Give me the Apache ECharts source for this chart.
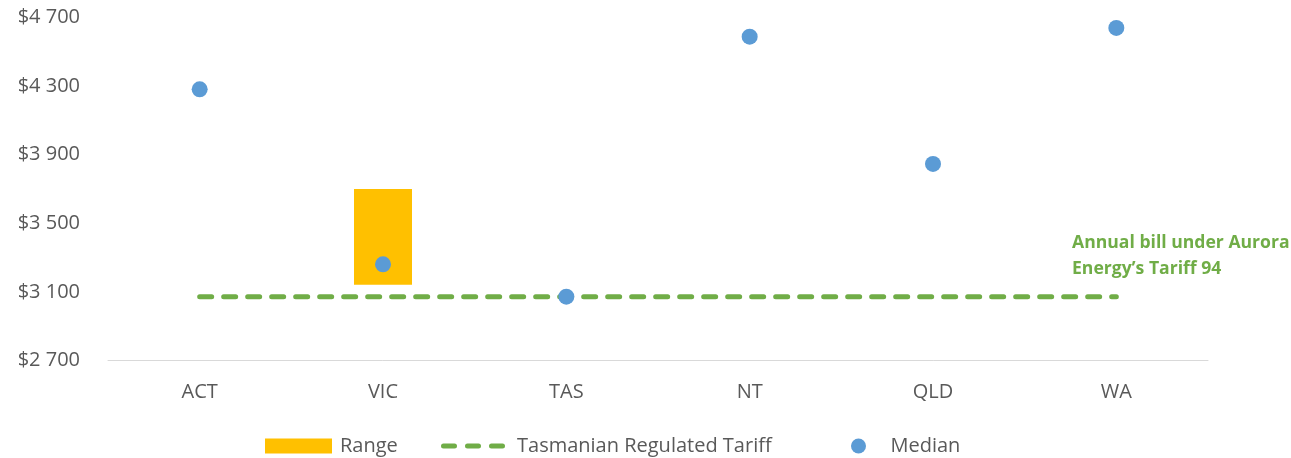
<!DOCTYPE html>
<html>
<head>
<meta charset="utf-8">
<script src="https://cdn.jsdelivr.net/npm/echarts@6/dist/echarts.min.js"></script>
<style>
  html, body { margin: 0; padding: 0; background: #fff; }
  #chart-container { width: 1291px; height: 458px; }
</style>
</head>
<body>
<div id="chart-container"></div>
<script>
const states = ["ACT", "VIC", "TAS", "NT", "QLD", "WA"];
const rangeLow = [null, 3142, null, null, null, null];
const rangeHigh = [null, 3700, null, null, null, null];
const medianData = [4281, 3261, 3072, 4588, 3846, 4639];
const tariffData = [3072, 3072, 3072, 3072, 3072, 3072];
const yTicks = { min: 2700, max: 4700, interval: 400 };

const rangeSize = rangeHigh.map((v, i) => (v == null ? null : v - rangeLow[i]));

const font = "'Open Sans', 'Liberation Sans', sans-serif";
const grey = "#595959";

// three rounded dashes for the tariff legend icon
const dash = (x) => `M${x + 2.5},0h11a2.5,2.5 0 0 1 0,5h-11a2.5,2.5 0 0 1 0,-5z`;
const dashIcon = "path://" + [0, 24, 48].map(dash).join(" ");

const dom = document.getElementById("chart-container");
const myChart = echarts.init(dom, null, { renderer: "canvas" });

function money(v) {
  return "$" + String(v).replace(/\B(?=(\d{3})+(?!\d))/g, " ");
}

const option = {
  animation: false,
  textStyle: { fontFamily: font },
  grid: { left: 108, right: 83, top: 17.5, bottom: 97.5, containLabel: false },
  legend: [
    {
      data: [{ name: "Range", icon: "rect" }],
      left: 265,
      top: 436,
      padding: 0,
      itemWidth: 67,
      itemHeight: 15,
      textStyle: { color: grey, fontSize: 20, fontFamily: font, padding: [0, 0, 0, 3] },
    },
    {
      data: [{ name: "Tasmanian Regulated Tariff", icon: dashIcon }],
      left: 441,
      top: 436,
      padding: 0,
      itemWidth: 64,
      itemHeight: 5,
      itemStyle: { color: "#70AD47" },
      textStyle: { color: grey, fontSize: 20, fontFamily: font, padding: [0, 0, 0, 7] },
    },
    {
      data: [{ name: "Median", icon: "circle" }],
      left: 851,
      top: 436,
      padding: 0,
      itemWidth: 24,
      itemHeight: 15,
      textStyle: { color: grey, fontSize: 20, fontFamily: font, padding: [0, 0, 0, 15] },
    },
  ],
  xAxis: {
    type: "category",
    data: states,
    axisLine: { lineStyle: { color: "#D9D9D9", width: 1 } },
    axisTick: { show: false },
    axisLabel: { color: grey, fontSize: 20, margin: 22, fontFamily: font },
  },
  yAxis: {
    type: "value",
    min: yTicks.min,
    max: yTicks.max,
    interval: yTicks.interval,
    splitLine: { show: false },
    axisLine: { show: false },
    axisTick: { show: false },
    axisLabel: { color: grey, fontSize: 20, margin: 28, fontFamily: font, formatter: money },
  },
  graphic: [
    {
      type: "text",
      left: 1072,
      top: 230,
      style: {
        text: "Annual bill under Aurora\nEnergy’s Tariff 94",
        fill: "#70AD47",
        font: "bold 17.6px " + font,
        lineHeight: 26,
      },
    },
  ],
  series: [
    {
      name: "base",
      type: "bar",
      stack: "range",
      barWidth: 58,
      itemStyle: { color: "transparent" },
      data: rangeLow,
      silent: true,
    },
    {
      name: "Range",
      type: "bar",
      stack: "range",
      barWidth: 58,
      itemStyle: { color: "#FFC000" },
      data: rangeSize,
    },
    {
      name: "Tasmanian Regulated Tariff",
      type: "line",
      symbol: "none",
      data: tariffData,
      lineStyle: { color: "#70AD47", width: 5, type: [12, 12], cap: "round" },
      itemStyle: { color: "#70AD47" },
    },
    {
      name: "Median",
      type: "scatter",
      symbol: "circle",
      symbolSize: 16,
      itemStyle: { color: "#5B9BD5", opacity: 1 },
      data: medianData,
      z: 5,
    },
  ],
};

myChart.setOption(option);
window.addEventListener("resize", myChart.resize);
</script>
</body>
</html>
